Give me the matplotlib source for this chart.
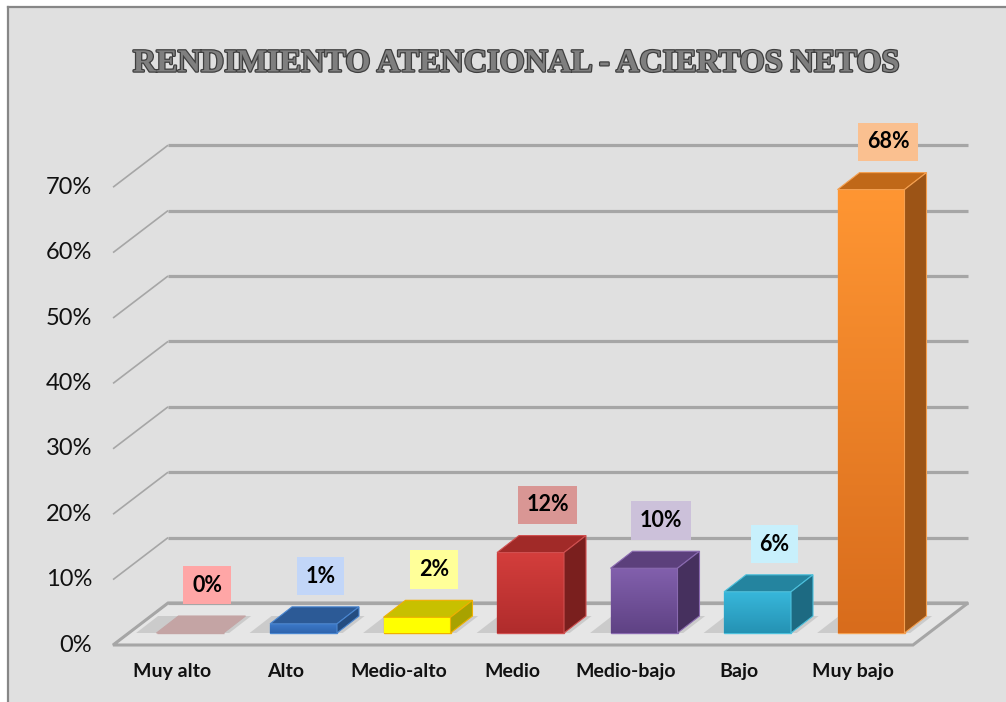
import numpy as np
import matplotlib
matplotlib.use('Agg')
import matplotlib.pyplot as plt
from matplotlib.patches import Polygon
from matplotlib.colors import LinearSegmentedColormap
import matplotlib.patheffects as pe

plt.rcParams['font.family'] = ['Lato', 'DejaVu Sans']

# data
categories = ['Muy alto', 'Alto', 'Medio-alto', 'Medio', 'Medio-bajo', 'Bajo', 'Muy bajo']
values = [0, 1.4, 2.4, 12.3, 9.9, 6.3, 67.8]
y_ticks = [0, 10, 20, 30, 40, 50, 60, 70]

# colours per bar
front_top = ['#c4a4a4', '#3d7bcb', '#ffff00', '#d43e3c', '#8260ad', '#38b8dc', '#ff9633']
front_bottom = ['#c4a4a4', '#2f64ad', '#ffff00', '#b02c2c', '#5f4284', '#2592b3', '#d86c1c']
top_colors = ['#c4a4a4', '#2c5a96', '#c8c000', '#a12a28', '#5c407c', '#24849f', '#c06818']
side_colors = ['#c4a4a4', '#244c80', '#a8a200', '#7a1f1e', '#46305e', '#1d6a82', '#9c5416']
edge_colors = ['#c4a4a4', '#4a86d0', '#f0b000', '#d05050', '#8a6ab0', '#4cc0dc', '#f5a050']
label_colors = ['#ffa6a6', '#c2d6f8', '#ffff99', '#d99694', '#ccc1da', '#c8f0fc', '#fac090']

# pixel scale of the drawing (1 category = 113.5 px, 1 % = 6.54 px)
PX_X = 113.5
PX_Y = 6.54
bar_w = 67 / PX_X
bar_dx, bar_dy = 22 / PX_X, 17 / PX_Y
front_dx, front_dy = -16 / PX_X, -12 / PX_Y
back_dx, back_dy = 39 / PX_X, 30 / PX_Y
wall_left, wall_right = -0.537, 6.511

fig = plt.figure(figsize=(10.06, 7.02), dpi=100, facecolor='white')
ax = fig.add_axes([8 / 1006, 0, (1012 - 8) / 1006, (702 - 7) / 702])
ax.set_facecolor('#e0e0e0')
for s in ['right', 'bottom']:
    ax.spines[s].set_visible(False)
for s in ['top', 'left']:
    ax.spines[s].set_color('#878787')
    ax.spines[s].set_linewidth(1.6)
ax.set_xticks([])
ax.set_yticks([])

grid_c = '#a6a6a6'

# floor
fl = (wall_left + front_dx, front_dy)
fr = (wall_right + front_dx, front_dy)
br = (wall_right + back_dx, back_dy)
bl = (wall_left + back_dx, back_dy)
ax.add_patch(Polygon([fl, fr, br, bl], closed=True, fc='#e6e6e6', ec=grid_c, lw=2.2, zorder=1))

# gridlines (left wall diagonals + back wall)
for v in y_ticks:
    x_f, y_f = wall_left + front_dx, v + front_dy
    x_b, y_b = wall_left + back_dx, v + back_dy
    x_r = wall_right + back_dx
    ax.plot([x_f, x_b], [y_f, y_b], color=grid_c, lw=1.2, zorder=1.5, solid_capstyle='butt')
    ax.plot([x_b, x_r], [y_b, y_b], color=grid_c, lw=2.3, zorder=1.5, solid_capstyle='butt')
    ax.text(x_f - 21 / PX_X, y_f, f'{v}%', ha='right', va='center', fontsize=17, color='#111111')

x = np.arange(len(categories))

# soft shadows on the floor
for i in x:
    x0 = i - bar_w / 2 - 0.18
    x1 = i + bar_w / 2 + 0.05
    ax.add_patch(Polygon([(x0, 0), (x1, 0), (x1 + bar_dx, bar_dy), (x0 + bar_dx, bar_dy)],
                         closed=True, fc='#9a9a9a', ec='none', alpha=0.35, zorder=2))

# bars: front faces
bars = ax.bar(x, values, width=bar_w, color=front_bottom, edgecolor=edge_colors,
              linewidth=1.0, zorder=3)
grad = np.linspace(0, 1, 256).reshape(-1, 1)
for rect, ct, cb, v in zip(bars, front_top, front_bottom, values):
    if v <= 0:
        continue
    cmap = LinearSegmentedColormap.from_list('g', [cb, ct])
    x0 = rect.get_x()
    im = ax.imshow(grad, cmap=cmap, origin='lower', aspect='auto',
                   extent=(x0, x0 + bar_w, 0, v), zorder=3.05, interpolation='bilinear')
    im.set_clip_path(rect)

# top and side faces
for i, v in enumerate(values):
    xl = i - bar_w / 2
    xr = i + bar_w / 2
    ax.add_patch(Polygon([(xl, v), (xr, v), (xr + bar_dx, v + bar_dy), (xl + bar_dx, v + bar_dy)],
                         closed=True, fc=top_colors[i], ec=edge_colors[i], lw=0.8, zorder=3.2))
    if v > 0:
        ax.add_patch(Polygon([(xr, 0), (xr, v), (xr + bar_dx, v + bar_dy), (xr + bar_dx, bar_dy)],
                             closed=True, fc=side_colors[i], ec=edge_colors[i], lw=0.8, zorder=3.2))

# data labels
for i, v in enumerate(values):
    ax.text(i + 0.15, v + 7.3, f'{v:.0f}%', ha='center', va='center', fontsize=15.5,
            fontweight='bold', color='black', zorder=5,
            bbox=dict(boxstyle='square,pad=0.4', fc=label_colors[i], ec='none'))

# category labels
for i, c in enumerate(categories):
    ax.text(i + front_dx - 0.02, -5.96, c, ha='center', va='center', fontsize=14,
            fontweight='bold', color='#111111')

# title
fig.text(517 / 1006, 1 - 64 / 702, 'RENDIMIENTO ATENCIONAL - ACIERTOS NETOS',
         ha='center', va='center', fontsize=23.2, fontweight='bold',
         family='Liberation Serif', color='#7f7f7f',
         path_effects=[pe.withStroke(linewidth=1.8, foreground='#3f3f3f')])

ax.set_xlim((8 - 190) / PX_X, (1012 - 190) / PX_X)
ax.set_ylim((633 - 702) / PX_Y, (633 - 7) / PX_Y)

fig.savefig('out.png', dpi=100, facecolor='white')
